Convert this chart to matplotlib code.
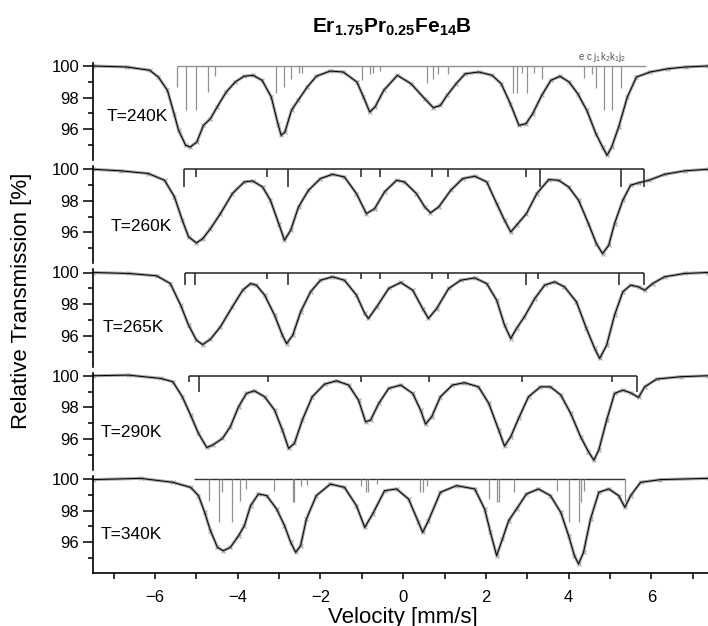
import matplotlib
matplotlib.use('Agg')
import matplotlib.pyplot as plt
from matplotlib.ticker import MultipleLocator

plt.rcParams['font.family'] = ['Liberation Sans', 'DejaVu Sans']
plt.rcParams['mathtext.fontset'] = 'custom'
plt.rcParams['mathtext.rm'] = 'Liberation Sans'
plt.rcParams['mathtext.it'] = 'Liberation Sans'
plt.rcParams['mathtext.bf'] = 'Liberation Sans:bold'

# ---- spectra (velocity mm/s, transmission %) ----
v240 = [-7.5, -6.69, -6.13, -5.92, -5.70, -5.54, -5.43, -5.26, -5.15, -4.99,
        -4.83, -4.66, -4.50, -4.28, -4.06, -3.85, -3.63, -3.41, -3.19, -3.03,
        -2.95, -2.86, -2.70, -2.54, -2.32, -2.10, -1.77, -1.45, -1.12, -0.96,
        -0.81, -0.68, -0.47, -0.14, 0.19, 0.52, 0.73, 0.90, 1.06, 1.28,
        1.50, 1.83, 2.15, 2.37, 2.59, 2.80, 2.97, 3.13, 3.35, 3.57,
        3.79, 4.01, 4.22, 4.44, 4.66, 4.82, 4.93, 5.04, 5.21, 5.42,
        5.64, 5.97, 6.41, 6.84, 7.37]
t240 = [100.0, 99.94, 99.73, 99.3, 98.46, 96.98, 95.93, 94.98, 94.87, 95.19,
        96.24, 96.67, 97.4, 98.35, 98.99, 99.35, 99.41, 99.09, 98.04, 96.35,
        95.61, 95.82, 97.2, 97.83, 98.67, 99.35, 99.68, 99.62, 98.99, 98.04,
        97.09, 97.41, 98.46, 99.41, 98.88, 97.93, 97.36, 97.51, 98.14, 98.88,
        99.51, 99.62, 99.41, 98.88, 97.62, 96.24, 96.35, 96.98, 98.14, 99.09,
        99.35, 98.99, 98.25, 97.19, 95.72, 94.87, 94.35, 94.87, 96.14, 98.04,
        99.3, 99.62, 99.83, 99.94, 100.0]

v260 = [-7.51, -6.83, -6.16, -5.77, -5.53, -5.34, -5.19, -5.00, -4.85, -4.66,
        -4.42, -4.13, -3.84, -3.64, -3.40, -3.21, -3.01, -2.87, -2.72, -2.53,
        -2.29, -2.00, -1.71, -1.42, -1.13, -0.89, -0.69, -0.45, -0.16, 0.03,
        0.32, 0.52, 0.66, 0.86, 1.15, 1.44, 1.73, 2.02, 2.26, 2.45,
        2.60, 2.74, 2.98, 3.23, 3.52, 3.76, 4.00, 4.24, 4.48, 4.67,
        4.82, 4.97, 5.11, 5.31, 5.50, 5.69, 5.94, 6.32, 6.81, 7.37]
t260 = [100, 99.9, 99.73, 99.3, 98.25, 96.77, 95.72, 95.34, 95.6, 96.24,
        97.19, 98.46, 99.2, 99.26, 98.88, 98.04, 96.56, 95.51, 96.14, 97.62,
        98.67, 99.41, 99.68, 99.51, 98.46, 97.19, 97.51, 98.57, 99.3, 99.2,
        98.46, 97.62, 97.24, 97.62, 98.67, 99.41, 99.56, 99.2, 97.83, 96.77,
        96.03, 96.46, 97.19, 98.46, 99.35, 99.3, 98.88, 98.04, 96.56, 95.3,
        94.66, 95.19, 96.56, 98.04, 98.99, 99.14, 99.3, 99.68, 99.9, 100]

v265 = [-7.51, -6.64, -5.96, -5.63, -5.38, -5.19, -5.00, -4.85, -4.66, -4.42,
        -4.13, -3.88, -3.69, -3.55, -3.35, -3.11, -2.92, -2.82, -2.67, -2.48,
        -2.24, -2.00, -1.71, -1.42, -1.13, -0.93, -0.84, -0.64, -0.35, -0.06,
        0.23, 0.47, 0.61, 0.81, 1.10, 1.39, 1.73, 2.02, 2.26, 2.45,
        2.60, 2.74, 2.93, 3.18, 3.42, 3.66, 3.90, 4.19, 4.43, 4.63,
        4.75, 4.92, 5.11, 5.31, 5.50, 5.69, 5.84, 6.03, 6.32, 6.81, 7.37]
t265 = [100, 99.94, 99.79, 99.3, 97.93, 96.67, 95.72, 95.44, 95.78, 96.56,
        97.83, 98.88, 99.3, 99.2, 98.57, 97.3, 96.03, 95.5, 96.03, 97.51,
        98.78, 99.51, 99.73, 99.51, 98.57, 97.41, 97.09, 97.83, 98.99, 99.37,
        98.88, 97.72, 97.09, 97.72, 98.99, 99.51, 99.66, 99.3, 98.25, 96.67,
        95.82, 96.46, 97.19, 98.35, 99.2, 99.41, 99.09, 98.14, 96.46, 95.19,
        94.56, 95.4, 97.3, 98.78, 99.2, 99.09, 98.88, 99.3, 99.73, 99.94, 100]

v290 = [-7.51, -6.64, -5.86, -5.57, -5.34, -5.14, -4.95, -4.75, -4.61, -4.37,
        -4.18, -3.98, -3.79, -3.60, -3.35, -3.11, -2.92, -2.77, -2.63, -2.44,
        -2.20, -1.90, -1.61, -1.32, -1.08, -0.91, -0.79, -0.59, -0.35, -0.06,
        0.23, 0.42, 0.54, 0.69, 0.90, 1.19, 1.48, 1.82, 2.07, 2.31,
        2.45, 2.60, 2.79, 3.03, 3.32, 3.56, 3.81, 4.05, 4.29, 4.48,
        4.61, 4.73, 4.92, 5.11, 5.31, 5.50, 5.69, 5.84, 6.13, 6.71, 7.37]
t290 = [100, 100.04, 99.83, 99.62, 98.67, 97.51, 96.35, 95.46, 95.61, 96.03,
        96.77, 98.04, 98.88, 99.05, 98.67, 97.83, 96.56, 95.4, 95.72, 97.19,
        98.67, 99.47, 99.68, 99.41, 98.46, 97.09, 97.19, 98.25, 99.2, 99.41,
        98.88, 97.83, 96.94, 97.41, 98.67, 99.41, 99.56, 99.3, 98.25, 96.56,
        95.55, 96.14, 97.3, 98.67, 99.3, 99.3, 98.78, 97.62, 96.14, 95.19,
        94.66, 95.3, 97.19, 98.88, 99.09, 98.92, 98.63, 99.3, 99.79, 99.94, 100]

v340 = [-7.51, -6.35, -5.57, -5.14, -4.95, -4.80, -4.66, -4.49, -4.35, -4.18,
        -3.98, -3.84, -3.69, -3.50, -3.30, -3.06, -2.87, -2.72, -2.60, -2.48,
        -2.34, -2.10, -1.76, -1.42, -1.13, -0.93, -0.74, -0.45, -0.16, 0.13,
        0.37, 0.47, 0.61, 0.90, 1.29, 1.73, 1.97, 2.11, 2.26, 2.40,
        2.55, 2.74, 2.98, 3.27, 3.56, 3.81, 4.00, 4.14, 4.24, 4.36,
        4.53, 4.73, 4.97, 5.21, 5.36, 5.50, 5.74, 6.22, 7.37]
t340 = [99.96, 100.04, 99.79, 99.47, 98.95, 97.89, 96.73, 95.67, 95.46, 95.67,
        96.41, 97.05, 98.31, 99.05, 98.95, 98.1, 97.05, 95.99, 95.36, 95.78,
        97.47, 98.95, 99.68, 99.47, 98.31, 96.94, 97.78, 99.26, 99.37, 98.73,
        97.26, 96.62, 97.36, 99.16, 99.58, 99.37, 98.1, 96.62, 95.15, 96.2,
        97.36, 98.1, 99.05, 99.37, 98.95, 97.89, 96.41, 95.15, 94.62, 95.36,
        97.47, 99.16, 99.37, 98.95, 98.21, 98.95, 99.79, 99.96, 100.04]

# ---- line positions (stick diagrams) ----
sticks240_pos = [-5.47, -5.24, -5.02, -4.72, -4.54, -3.07, -2.87, -2.71, -2.52, -2.45,
                 -1.0, -0.80, -0.72, -0.56, 0.57, 0.73, 0.83, 1.09,
                 2.66, 2.75, 2.87, 2.99, 3.17, 3.35, 4.37, 4.56, 4.66, 4.86, 5.04, 5.26]
sticks240_int = [1.33, 2.76, 2.76, 1.65, 0.65, 1.71, 1.33, 0.8, 0.44, 0.44,
                 0.91, 0.53, 0.44, 0.3, 1.05, 0.84, 0.53, 0.53,
                 1.69, 1.69, 0.42, 1.69, 0.42, 0.84, 0.74, 0.53, 1.37, 2.8, 2.8, 1.37]
sticks240_span = [-5.48, 5.88]

sticks340_pos = [-4.69, -4.46, -4.37, -4.15, -3.95, -3.79, -3.13, -2.67, -2.63, -2.48,
                 -2.32, -1.03, -0.89, -0.84, -0.64, 0.40, 0.47, 0.57,
                 2.07, 2.26, 2.31, 2.69, 3.71, 4.02, 4.24, 4.29, 4.37, 5.36]
sticks340_int = [1.37, 2.7, 0.84, 2.7, 1.37, 0.63, 0.74, 1.48, 1.48, 0.42,
                 0.38, 0.42, 0.8, 0.8, 0.32, 0.8, 0.84, 0.42,
                 1.27, 1.48, 1.48, 0.84, 0.74, 2.74, 2.74, 1.48, 0.74, 1.37]
sticks340_span = [-5.07, 5.36]

bar260_pos = [-5.31, -5.00, -3.30, -2.79, -1.03, -0.55, 0.69, 1.08, 2.98, 3.32, 5.26, 5.82]
bar260_len = [1.1, 0.5, 0.5, 1.1, 0.5, 0.5, 0.5, 0.5, 0.5, 1.1, 1.1, 1.1]
bar265_pos = [-5.28, -5.03, -3.30, -2.79, -1.03, -0.55, 0.69, 1.08, 2.98, 3.27, 5.22, 5.82]
bar265_len = [0.8, 0.8, 0.4, 0.8, 0.4, 0.4, 0.4, 0.4, 0.8, 0.4, 0.8, 0.8]
bar290_pos = [-5.17, -4.93, -3.27, -1.03, 0.63, 2.87, 5.04, 5.65]
bar290_len = [0.4, 1.05, 0.4, 0.4, 0.4, 0.4, 0.4, 1.05]

temps = ['T=240K', 'T=260K', 'T=265K', 'T=290K', 'T=340K']
spectra = [(v240, t240), (v260, t260), (v265, t265), (v290, t290), (v340, t340)]
label_xy = [(-7.17, 96.8), (-7.08, 96.4), (-7.27, 96.5), (-7.32, 96.4), (-7.32, 96.5)]

W, H = 708, 626
fig = plt.figure(figsize=(W / 100, H / 100), dpi=100)

ppc = 15.8  # pixels per percent
axes = []
for k in range(5):
    p100 = 66 + 103.25 * k
    top = p100 - 0.2 * ppc
    bot = p100 + 5.95 * ppc
    ax = fig.add_axes([93 / W, 1 - bot / H, 1 - 93 / W, (bot - top) / H])
    ax.patch.set_alpha(0)
    ax.set_xlim(-7.5, 7.37)
    ax.set_ylim(94.05, 100.2)
    for s in ['top', 'right']:
        ax.spines[s].set_visible(False)
    ax.spines['left'].set_linewidth(1.2)
    ax.set_yticks([96, 98, 100])
    ax.yaxis.set_minor_locator(MultipleLocator(1))
    ax.tick_params(axis='y', which='major', direction='out', length=7, width=1.1,
                   labelsize=12, pad=3)
    ax.tick_params(axis='y', which='minor', direction='out', length=3.5, width=1.1)
    if k < 4:
        ax.spines['bottom'].set_visible(False)
        ax.set_xticks([])
    else:
        ax.spines['bottom'].set_linewidth(1.2)
        ax.set_xticks([-6, -4, -2, 0, 2, 4, 6])
        ax.xaxis.set_minor_locator(MultipleLocator(1))
        ax.tick_params(axis='x', which='major', direction='out', length=4.5, width=1.1,
                       labelsize=12, pad=8)
        ax.tick_params(axis='x', which='minor', direction='out', length=4, width=1.1)
    v, t = spectra[k]
    ax.plot(v, t, color='#9a9a9a', lw=2.2, marker='x', ms=3.5, mew=0.8, alpha=0.9)
    ax.plot(v, t, color='black', lw=0.7)
    ax.text(label_xy[k][0], label_xy[k][1], temps[k], ha='left', va='center', fontsize=12.5)
    axes.append(ax)

# stick diagrams
ax = axes[0]
ax.hlines(100, sticks240_span[0], sticks240_span[1], color='#909090', lw=1)
ax.vlines(sticks240_pos, [100 - d for d in sticks240_int], 100, color='#909090', lw=0.9)
ax.text(4.8, 100.6, r'e c j$_1$k$_2$k$_1$j$_2$', ha='center', va='center',
        fontsize=7, color='#555555', clip_on=False)

for ax, pos, ln in [(axes[1], bar260_pos, bar260_len),
                    (axes[2], bar265_pos, bar265_len),
                    (axes[3], bar290_pos, bar290_len)]:
    ax.hlines(100, min(pos), max(pos), color='#222222', lw=1.1)
    ax.vlines(pos, [100 - d for d in ln], 100, color='#222222', lw=1.1)

ax = axes[4]
ax.hlines(100, sticks340_span[0], sticks340_span[1], color='#333333', lw=1)
ax.vlines(sticks340_pos, [100 - d for d in sticks340_int], 100, color='#909090', lw=0.9)

fig.text(392 / W, 1 - 33 / H, r'$\mathbf{Er_{1.75}Pr_{0.25}Fe_{14}B}$',
         ha='center', va='baseline', fontsize=15)
fig.text(22 / W, 1 - 301 / H, 'Relative Transmission [%]', rotation=90,
         ha='center', va='center', fontsize=16)
fig.text(403 / W, 1 - 617 / H, 'Velocity [mm/s]', ha='center', va='center', fontsize=16)

fig.savefig('out.png', dpi=100)
